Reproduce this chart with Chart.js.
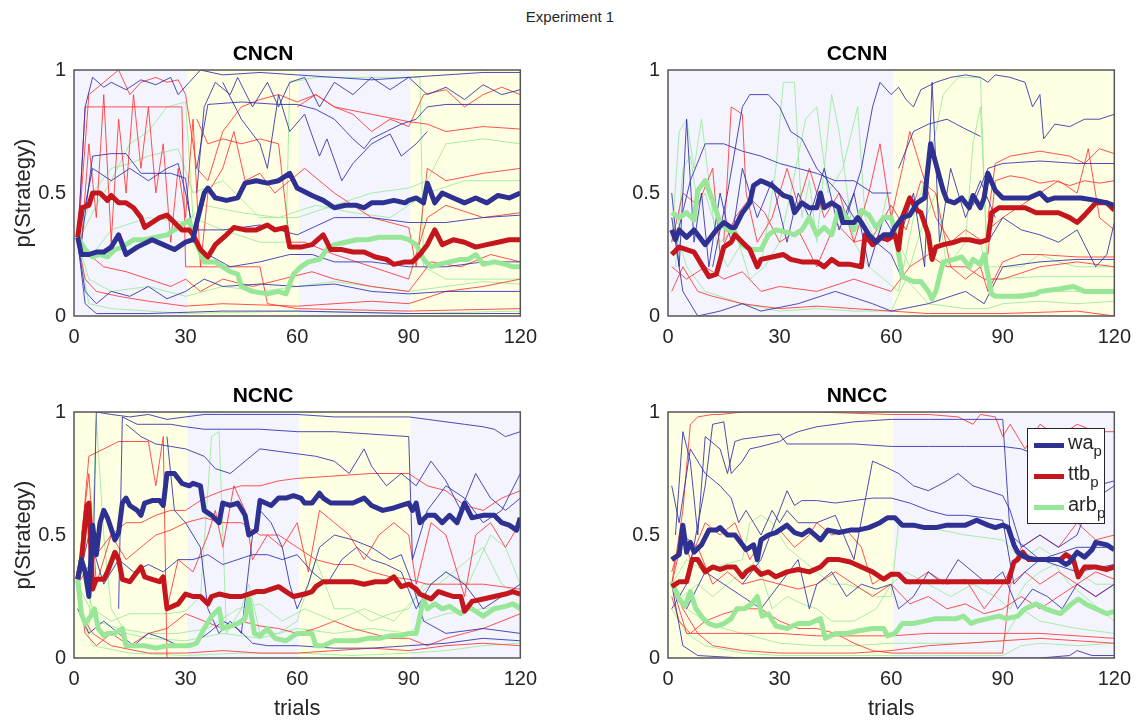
<!DOCTYPE html>
<html>
<head>
<meta charset="utf-8">
<script src="https://cdn.jsdelivr.net/npm/chart.js@4.4.1/dist/chart.umd.min.js"></script>
<style>
  body { margin: 0; background: #fff; width: 1140px; height: 722px; position: relative; overflow: hidden;
         font-family: "Liberation Sans", Arial, Helvetica, sans-serif; color: #262626; }
  canvas { position: absolute; }
  #title { position: absolute; left: 0; top: 8px; width: 1140px; text-align: center; font-size: 15px; }
  #legend { position: absolute; left: 1027px; top: 428px; width: 76px; height: 94px; background: #fff;
            border: 1px solid #262626; font-size: 20px; }
  #legend div { position: absolute; left: 6px; height: 20px; }
  #legend span.l { position: absolute; left: 0; top: 8px; width: 30px; height: 5px; }
  #legend span.t { position: absolute; left: 34px; top: -4px; white-space: nowrap; }
  #legend sub { font-size: 15px; vertical-align: -7px; }
</style>
</head>
<body>
<div id="title">Experiment 1</div>
<canvas id="c0" width="546" height="355" style="left:0;top:25px"></canvas>
<canvas id="c1" width="546" height="355" style="left:594px;top:25px"></canvas>
<canvas id="c2" width="546" height="355" style="left:0;top:367px"></canvas>
<canvas id="c3" width="546" height="355" style="left:594px;top:367px"></canvas>
<div id="legend">
  <div style="top:6px"><span class="l" style="background:#2e3192"></span><span class="t">wa<sub>p</sub></span></div>
  <div style="top:37px"><span class="l" style="background:#c4161c"></span><span class="t">ttb<sub>p</sub></span></div>
  <div style="top:68px"><span class="l" style="background:#98e698"></span><span class="t">arb<sub>p</sub></span></div>
</div>
<script>
// block boundaries (trials) and axis ticks
const phaseEdges = [0, 30.5, 60.5, 90.5, 120];
const xTicks = [0, 30, 60, 90, 120];
const yTicks = [0, 0.5, 1];
const titles = ['CNCN', 'CCNN', 'NCNC', 'NNCC'];

// ---- CNCN ----
const cncnWa = [[1,.32],[2,.25],[4,.25],[6,.26],[8,.26],[10,.28],[12,.33],[14,.25],[17,.28],[21,.31],[24,.29],[27,.27],[30,.30],[32,.31],[33,.38],[35,.50],[36,.52],[38,.48],[41,.47],[44,.48],[46,.54],[49,.55],[52,.54],[55,.55],[58,.58],[59,.55],[60,.52],[64,.49],[67,.47],[70,.44],[73,.45],[76,.45],[78,.44],[80,.46],[83,.46],[86,.47],[89,.46],[90,.47],[92,.48],[94,.46],[95,.54],[97,.46],[99,.50],[102,.48],[105,.46],[108,.48],[111,.46],[114,.49],[117,.48],[120,.50]];
const cncnTtb = [[1,.32],[2,.44],[4,.45],[5,.50],[7,.50],[9,.47],[10,.49],[12,.46],[14,.46],[16,.44],[18,.40],[19,.36],[21,.38],[23,.40],[25,.41],[27,.38],[29,.35],[31,.35],[32,.33],[34,.27],[36,.24],[38,.29],[41,.33],[43,.36],[46,.35],[49,.35],[52,.37],[54,.35],[57,.36],[58,.28],[61,.28],[64,.29],[67,.33],[69,.27],[72,.27],[75,.26],[78,.26],[81,.24],[84,.23],[86,.21],[89,.22],[91,.22],[93,.25],[95,.29],[97,.35],[99,.29],[102,.31],[105,.30],[108,.28],[111,.29],[114,.30],[117,.31],[120,.31]];
const cncnArb = [[1,.32],[3,.27],[5,.24],[7,.25],[9,.24],[11,.27],[13,.28],[16,.31],[19,.31],[22,.32],[25,.33],[27,.35],[30,.38],[31,.39],[32,.33],[35,.22],[38,.22],[40,.20],[42,.18],[44,.17],[45,.12],[48,.10],[52,.09],[55,.10],[57,.09],[59,.17],[61,.20],[63,.22],[66,.23],[68,.27],[70,.29],[73,.30],[76,.31],[79,.31],[82,.32],[85,.32],[88,.32],[90,.31],[92,.29],[94,.23],[96,.20],[98,.21],[101,.22],[104,.23],[106,.23],[108,.25],[110,.21],[113,.22],[116,.21],[118,.20],[120,.20]];
const cncnThinWa = [
  [[1,.3],[3,.85],[5,.97],[8,.93],[10,.95],[14,.92],[18,.96],[22,.94],[26,.97],[28,.9],[31,.95],[34,1],[40,.98],[50,.99],[60,.98],[70,.97],[80,.96],[90,.97],[100,.98],[110,.99],[120,.99]],
  [[33,.5],[35,.85],[38,.95],[42,.9],[44,.97],[48,.85],[52,.95],[55,.85],[58,.95],[62,.97],[66,.85],[70,.95],[75,.9],[80,.97],[85,.92],[90,.97],[95,.9],[100,.93],[105,.88],[110,.94],[115,.9],[120,.92]],
  [[33,.6],[36,.86],[45,.87],[55,.86],[60,.86],[65,.84],[70,.8],[75,.72],[78,.68],[80,.72],[84,.75],[88,.78],[92,.8],[95,.85],[100,.86],[110,.86],[120,.86]],
  [[40,.95],[45,.8],[50,.7],[52,.6],[55,.9],[58,.75],[62,.82],[66,.65],[68,.72],[72,.55],[75,.62],[80,.7],[85,.74],[88,.65],[92,.7],[95,.75]],
  [[1,.3],[5,.6],[10,.55],[15,.6],[20,.55],[25,.6],[28,.62],[30,.5],[32,.35],[40,.35],[50,.37],[60,.33],[70,.4],[80,.4],[90,.38],[100,.38],[110,.4],[120,.41]],
  [[1,.3],[3,.1],[6,.05],[10,.1],[15,.08],[20,.12],[25,.07],[30,.1],[35,.15],[40,.12],[50,.13],[60,.12],[70,.13],[80,.1],[90,.09],[100,.1],[110,.1],[120,.1]],
  [[1,.3],[3,.05],[6,.01],[20,.01],[40,.02],[60,.02],[90,.01],[120,.01]],
  [[2,.3],[5,.65],[10,.66],[14,.66],[18,.58],[22,.58],[26,.58],[30,.56],[32,.3],[36,.25],[42,.2],[50,.22],[58,.25],[64,.25],[70,.22],[80,.22],[90,.2],[100,.2],[110,.22],[120,.22]]
];
const cncnThinTtb = [
  [[1,.3],[4,.9],[8,.95],[12,1],[15,.9],[18,.95],[22,.97],[25,.95],[28,.96],[30,.9],[33,.6],[36,.55],[40,.75],[45,.85],[50,.88],[55,.9],[60,.87],[65,.9],[70,.85],[80,.82],[90,.79],[95,.78],[100,.75],[110,.77],[120,.76]],
  [[1,.3],[3,.85],[10,.85],[20,.85],[29,.85],[30,.2],[40,.2],[50,.2],[52,.05],[60,.03],[90,.02],[120,.03]],
  [[2,.3],[4,.7],[6,.4],[8,.9],[10,.3],[12,.8],[14,.5],[16,.9],[18,.6],[20,.85],[22,.5],[24,.7],[26,.3],[28,.6],[30,.4],[32,.8],[34,.2],[36,.5],[40,.6],[43,.75],[46,.55],[50,.58],[54,.5],[58,.55],[62,.6],[66,.55],[70,.5],[75,.45],[80,.4],[85,.38],[90,.36],[92,.2],[95,.6],[100,.55],[110,.58],[120,.6]],
  [[33,.8],[36,.7],[40,.72],[45,.7],[50,.72],[55,.7],[58,.3],[62,.3],[70,.25],[80,.2],[90,.15],[95,.4],[100,.45],[110,.4],[120,.42]],
  [[1,.3],[3,.15],[6,.1],[12,.08],[20,.06],[30,.04],[40,.05],[60,.04],[80,.06],[90,.05],[100,.1],[110,.12],[120,.15]],
  [[1,.3],[4,.25],[8,.2],[14,.18],[20,.15],[26,.12],[30,.15],[34,.1],[40,.15],[48,.12],[56,.15],[64,.18],[70,.15],[80,.12],[90,.1],[96,.22],[104,.2],[112,.25],[120,.22]],
  [[60,.85],[65,.9],[70,.85],[75,.82],[80,.75],[85,.8],[90,.77],[94,.9],[100,.92],[105,.85],[110,.9],[115,.93],[120,.9]]
];
const cncnThinArb = [
  [[1,.3],[6,.45],[10,.55],[15,.7],[20,.75],[25,.85],[30,.87],[32,.4],[40,.35],[50,.3],[57,.3],[58,.95],[65,.97],[80,.97],[93,.97],[94,.2],[100,.15],[120,.15]],
  [[1,.3],[5,.5],[10,.6],[15,.62],[20,.65],[28,.68],[32,.5],[40,.55],[50,.4],[60,.4],[70,.45],[80,.5],[90,.52],[95,.55],[100,.7],[110,.72],[120,.7]],
  [[1,.3],[5,.25],[10,.35],[20,.4],[30,.38],[35,.45],[45,.42],[55,.4],[65,.45],[75,.42],[85,.4],[95,.5],[105,.55],[115,.55],[120,.55]],
  [[1,.3],[4,.15],[10,.1],[20,.12],[30,.08],[40,.12],[50,.1],[60,.12],[70,.14],[80,.12],[90,.1],[100,.12],[110,.14],[120,.13]],
  [[1,.3],[4,.05],[10,.03],[30,.01],[60,.02],[90,.01],[120,.02]]
];

// ---- CCNN ----
const ccnnWa = [[1,.35],[2,.31],[3,.35],[5,.32],[7,.35],[8,.33],[10,.29],[11,.31],[13,.35],[15,.38],[17,.36],[18,.36],[20,.42],[21,.44],[22,.46],[23,.53],[25,.55],[28,.53],[31,.49],[33,.48],[34,.42],[36,.46],[38,.44],[40,.44],[41,.50],[42,.44],[44,.46],[46,.44],[47,.38],[49,.38],[50,.38],[51,.40],[52,.38],[54,.33],[56,.30],[58,.33],[60,.33],[61,.36],[63,.40],[65,.41],[67,.46],[69,.48],[70.6,.70],[72,.62],[74,.51],[75,.47],[77,.46],[79,.48],[81,.44],[82,.49],[84,.44],[85,.48],[86,.58],[88,.51],[90,.48],[93,.48],[97,.48],[100,.50],[102,.47],[104,.48],[107,.48],[111,.48],[115,.47],[118,.46],[120,.45]];
const ccnnTtb = [[1,.25],[3,.28],[5,.27],[7,.26],[9,.21],[11,.16],[13,.17],[15,.28],[17,.30],[18,.33],[20,.30],[22,.27],[24,.20],[25,.23],[28,.24],[31,.25],[33,.23],[36,.22],[40,.22],[42,.20],[44,.23],[46,.21],[49,.21],[52,.20],[53,.33],[55,.29],[57,.32],[59,.31],[61,.33],[62,.27],[63,.40],[65,.48],[67,.43],[68,.42],[70,.33],[71,.23],[72,.28],[74,.29],[77,.30],[79,.31],[81,.31],[84,.30],[86,.31],[87,.42],[89,.44],[92,.44],[96,.44],[99,.42],[102,.42],[105,.42],[108,.40],[110,.38],[112,.41],[115,.46],[118,.46],[120,.43]];
const ccnnArb = [[1,.42],[3,.40],[5,.42],[7,.39],[8,.51],[10,.55],[12,.47],[14,.38],[16,.35],[18,.34],[20,.29],[21,.28],[23,.27],[25,.27],[27,.33],[29,.35],[32,.34],[34,.33],[36,.35],[38,.40],[40,.33],[42,.36],[44,.33],[46,.44],[48,.40],[50,.35],[52,.43],[54,.41],[56,.36],[58,.40],[60,.40],[61,.35],[63,.16],[66,.14],[68,.14],[70,.10],[71,.07],[72,.10],[74,.22],[77,.23],[79,.24],[81,.20],[82,.23],[84,.21],[85,.25],[87,.09],[88,.08],[91,.08],[95,.08],[99,.09],[100,.10],[105,.11],[109,.12],[112,.10],[116,.10],[120,.10]];
const ccnnThinWa = [
  [[48,.4],[52,.6],[55,.85],[57,.95],[60,.9],[62,.93],[64,.88],[66,.85],[68,.92],[72,.95],[76,.97],[80,.98],[84,.97],[86,.95],[88,.98],[92,.97],[96,.95],[98,.85],[100,.9],[101,.72],[104,.78],[108,.77],[112,.8],[116,.8],[120,.82]],
  [[12,.2],[16,.5],[20,.85],[22,.9],[27,.9],[30,.85],[33,.75],[36,.72],[40,.6],[43,.55],[46,.5],[50,.4],[53,.35],[56,.3],[60,.25],[63,.15]],
  [[2,.3],[6,.55],[10,.7],[15,.7],[20,.67],[25,.65],[30,.62],[35,.6],[40,.58],[45,.55],[50,.55],[55,.5],[60,.5]],
  [[62,.6],[66,.75],[70,.78],[75,.8],[80,.76],[84,.73]],
  [[82,.45],[86,.6],[90,.62],[100,.63],[110,.62],[120,.62]],
  [[86,.3],[90,.4],[95,.35],[100,.33],[105,.3],[110,.35],[115,.2],[118,.25],[120,.38]],
  [[1,.4],[4,.1],[8,0],[14,.02],[20,.05],[25,.02],[35,.05],[45,.1],[55,.05],[60,.02],[70,.05],[80,.1],[85,.05],[90,.2],[100,.22],[110,.23],[120,.23]],
  [[1,.5],[3,.2],[5,.8],[7,.3],[9,.5],[11,.2],[14,.5],[17,.3],[20,.6],[24,.4],[28,.55],[32,.3],[35,.5],[38,.4],[42,.6],[46,.35],[50,.5],[54,.2],[58,.4],[62,.3],[66,.5],[69,.2],[71,.95],[73,.3],[76,.6],[80,.4],[84,.55],[88,.4]]
];
const ccnnThinTtb = [
  [[15,.3],[17,.85],[20,.82],[21,.5],[24,.3],[28,.4],[32,.6],[35,.45],[38,.6],[42,.4],[46,.5],[50,.3],[54,.5],[57,.7],[60,.4],[63,.6],[65,.75],[68,.6],[72,.4],[76,.3],[80,.35],[85,.3]],
  [[86,.4],[88,.62],[92,.65],[96,.66],[100,.67],[104,.66],[108,.65],[112,.62],[116,.68],[120,.66]],
  [[86,.25],[88,.55],[92,.57],[96,.56],[100,.54],[104,.55],[108,.53],[112,.55],[116,.54],[120,.55]],
  [[86,.35],[90,.4],[95,.45],[100,.5],[105,.55],[110,.5],[113,.68],[116,.4],[120,.35]],
  [[1,.1],[4,.2],[8,.1],[12,.08],[20,.05],[30,.03],[40,.04],[50,.03],[60,.02],[70,.01],[90,.01],[110,.02],[120,0]],
  [[1,.3],[4,.5],[8,.45],[12,.6],[14,.25],[18,.4],[22,.48],[26,.42],[30,.3],[35,.35],[40,.2],[45,.38],[50,.3],[55,.32],[60,.45],[64,.35],[68,.55],[72,.5],[76,.2],[80,.15],[84,.2],[86,.1],[90,.22],[95,.25],[100,.25],[110,.24],[120,.24]],
  [[1,.2],[5,.15],[10,.2],[15,.15],[20,.18],[25,.1],[30,.12],[40,.1],[50,.15],[60,.1],[65,.2],[70,.25],[75,.2],[80,.2],[85,.15],[90,.15],[100,.2],[110,.22],[120,.2]]
];
const ccnnThinArb = [
  [[1,.3],[3,.75],[5,.8],[7,.6],[9,.8],[11,.55],[13,.3],[16,.2],[20,.3],[25,.2],[29,.6],[31,.95],[34,.95],[36,.4],[38,.55],[40,.3],[44,.9],[46,.75],[50,.3],[54,.2],[58,.15],[62,.1],[66,.4],[70,.6],[74,.9],[78,.97],[84,.97],[86,.1],[90,.08],[100,.1],[110,.1],[120,.1]],
  [[2,.2],[4,.6],[6,.65],[8,.45],[10,.5],[14,.3],[18,.35],[22,.15],[26,.2],[30,.3],[33,.5],[37,.8],[40,.85],[43,.5],[47,.6],[51,.85],[53,.4],[56,.3],[59,.5],[62,.3],[65,.2],[68,.35],[72,.5],[75,.2],[80,.3],[82,.7],[84,.85],[86,.2],[95,.2],[100,.25],[105,.22],[110,.2],[120,.2]],
  [[1,.4],[5,.2],[10,.1],[20,.05],[30,.02],[40,.03],[50,.02],[60,.02],[64,.15],[70,.05],[80,.03],[86,.03],[90,.05],[100,.06],[110,.05],[120,.06]],
  [[84,.3],[86,.15],[100,.16],[120,.16]]
];

// ---- NCNC ----
const ncncWa = [[1,.32],[2,.40],[3,.35],[4,.25],[5,.54],[6,.42],[7,.55],[8,.60],[9,.57],[11,.48],[12,.51],[13,.63],[14,.65],[15,.62],[17,.60],[18,.58],[19,.63],[21,.64],[23,.64],[24,.62],[25,.75],[27,.75],[29,.71],[31,.70],[32,.71],[34,.70],[35,.60],[37,.58],[39,.55],[40,.63],[42,.62],[44,.63],[46,.58],[47,.50],[49,.52],[50,.64],[53,.62],[55,.65],[57,.65],[59,.66],[61,.65],[62,.63],[64,.63],[66,.67],[67,.65],[69,.63],[72,.63],[75,.63],[78,.65],[80,.62],[83,.60],[86,.61],[88,.62],[90,.63],[91,.60],[92,.63],[93,.55],[95,.58],[97,.58],[99,.55],[101,.58],[103,.55],[105,.63],[107,.57],[110,.58],[113,.58],[115,.55],[117,.54],[119,.52],[120,.57]];
const ncncTtb = [[1,.32],[2,.40],[3.5,.62],[4,.63],[5,.28],[6,.32],[8,.32],[9,.35],[11,.43],[12,.40],[13,.32],[15,.31],[16,.33],[18,.37],[19,.33],[21,.32],[23,.31],[24,.33],[25,.20],[28,.22],[30,.26],[32,.25],[34,.25],[36,.22],[37,.25],[39,.26],[42,.25],[45,.25],[47,.26],[49,.27],[51,.27],[53,.28],[55,.29],[57,.27],[59,.25],[62,.26],[64,.27],[65,.29],[67,.31],[69,.31],[72,.31],[75,.31],[78,.30],[81,.31],[84,.31],[86,.33],[88,.29],[90,.30],[92,.28],[93,.26],[96,.24],[98,.27],[100,.26],[102,.25],[104,.25],[105,.19],[107,.23],[110,.24],[113,.25],[116,.26],[118,.27],[120,.26]];
const ncncArb = [[1,.32],[2,.18],[3,.14],[4.5,.17],[5.5,.20],[6.5,.12],[8,.09],[9,.10],[11,.10],[13,.12],[14,.05],[16,.05],[19,.05],[22,.04],[25,.05],[28,.05],[31,.05],[33,.06],[35,.12],[37,.17],[39,.20],[40,.12],[42,.13],[44,.14],[46,.16],[47,.24],[48.5,.10],[50,.09],[52,.12],[54,.08],[57,.07],[60,.10],[64,.10],[65,.05],[67,.05],[70,.07],[73,.07],[76,.07],[79,.08],[82,.08],[85,.09],[88,.09],[90,.10],[92,.10],[94,.24],[95,.20],[97,.22],[99,.20],[101,.21],[104,.18],[106,.21],[108,.19],[110,.17],[113,.20],[116,.21],[118,.22],[120,.20]];
const ncncThinWa = [
  [[5,.3],[6,1],[10,.99],[15,.98],[20,.99],[25,.97],[30,.98],[35,.99],[40,.99],[50,.99],[60,.99],[70,.98],[80,.98],[90,.98],[95,.97],[100,.96],[105,.95],[110,.94],[113,.93],[116,.9],[120,.92]],
  [[12,.2],[13,.98],[17,.95],[22,.95],[26,.95],[30,.94],[35,.93],[40,.93],[50,.93],[60,.92],[70,.92],[80,.91],[90,.9],[91,.4],[95,.6],[100,.7],[105,.65],[110,.55],[115,.6],[120,.75]],
  [[14,.95],[18,.9],[22,.87],[26,.86],[30,.85],[35,.82],[38,.77],[42,.75],[46,.8],[50,.85],[55,.84],[60,.83],[65,.82],[70,.8],[74,.75],[78,.85],[80,.78],[84,.7],[88,.75],[92,.7],[96,.8],[100,.72],[104,.6],[108,.75],[112,.65],[116,.6],[120,.65]],
  [[1,.3],[4,.5],[8,.3],[12,.4],[16,.35],[20,.38],[24,.35],[28,.4],[32,.4],[36,.42],[40,.38],[44,.4],[48,.42],[52,.42],[56,.4],[60,.42],[64,.35],[68,.3],[72,.4],[76,.45],[80,.4],[84,.38],[88,.35],[92,.2],[96,.3],[100,.35],[105,.3],[110,.2],[115,.25],[120,.3]],
  [[1,.2],[4,.1],[8,.15],[12,.1],[16,.05],[20,.1],[24,.08],[28,.05],[32,.06],[36,.1],[40,.15],[44,.12],[48,.06],[52,.05],[60,.05],[70,.04],[80,.04],[90,.05],[100,.06],[110,.08],[120,.07]],
  [[25,.9],[27,.6],[30,.55],[34,.45],[36,.2],[39,.1],[42,.15],[45,.1],[48,.5],[50,.6],[53,.55],[56,.45],[58,.3],[60,.2],[63,.3],[66,.45],[70,.5],[75,.48],[80,.45],[85,.4],[88,.42],[91,.3],[94,.15],[100,.1],[110,.12],[120,.1]]
];
const ncncThinTtb = [
  [[1,.3],[4,.82],[8,.85],[12,.88],[16,.88],[20,.88],[22,.7],[24,.9],[25,0]],
  [[2,.5],[4,.75],[6,.3],[10,.5],[14,.55],[18,.55],[22,.58],[26,.6],[30,.6],[35,.65],[40,.68],[45,.7],[50,.7],[55,.72],[60,.73],[70,.74],[80,.75],[90,.75],[95,.7],[100,.68],[105,.62],[110,.6],[115,.65],[120,.68]],
  [[25,.2],[28,.4],[32,.35],[36,.5],[38,.6],[40,.45],[43,.7],[46,.6],[48,.4],[52,.5],[56,.45],[60,.55],[63,.35],[66,.6],[70,.55],[74,.5],[78,.4],[82,.5],[86,.55],[90,.5],[92,.3],[96,.55],[100,.5],[105,.25],[108,.5],[112,.55],[116,.45],[120,.55]],
  [[1,.3],[3,.1],[6,.05],[10,.1],[15,.05],[20,.1],[25,.12],[30,.18],[35,.15],[40,.12],[45,.15],[50,.13],[55,.12],[60,.1],[65,.12],[70,.15],[75,.12],[80,.1],[85,.08],[90,.08],[95,.05],[100,.08],[105,.1],[110,.12],[115,.15],[120,.18]],
  [[1,.2],[5,.1],[10,.05],[20,.02],[30,.02],[40,.03],[50,.02],[60,.02],[70,.03],[80,.04],[90,.03],[100,.05],[110,.06],[120,.05]],
  [[1,.3],[5,.4],[10,.5],[14,.4],[18,.45],[22,.5],[26,.52],[30,.55],[35,.57],[40,.55],[45,.55],[50,.5],[55,.5],[60,.45],[65,.4],[70,.38],[75,.38],[80,.35],[85,.33],[90,.32],[95,.3],[100,.3],[110,.3],[120,.28]]
];
const ncncThinArb = [
  [[1,.4],[5,.2],[10,.15],[15,.18],[20,.18],[25,.18],[30,.19],[34,.25],[37,.9],[39,.92],[41,.1],[45,.2],[47,.3],[50,.1],[55,.1],[60,.15],[65,.4],[70,.2],[75,.2],[80,.15],[85,.18],[90,.2],[94,.3],[98,.3],[102,.35],[106,.4],[110,.45],[115,.3],[120,.25]],
  [[1,.3],[6,.15],[12,.12],[20,.1],[28,.1],[36,.12],[44,.2],[50,.22],[56,.15],[62,.2],[70,.15],[78,.2],[86,.15],[92,.25],[100,.35],[106,.3],[112,.5],[116,.45],[120,.3]],
  [[1,.2],[5,.05],[15,.02],[30,.01],[45,.02],[60,.02],[75,.01],[90,.02],[100,.03],[110,.05],[120,.06]],
  [[4,.1],[6,.97],[8,.5],[10,.2],[14,.1],[20,.08],[30,.07],[40,.1],[50,.08],[60,.12],[70,.1],[80,.12],[90,.1],[94,.15],[100,.18],[110,.2],[120,.22]]
];

// ---- NNCC ----
const nnccWa = [[1,.40],[3,.42],[4,.54],[5,.43],[6,.47],[7,.43],[9,.46],[11,.52],[13,.52],[14,.53],[16,.50],[18,.50],[20,.46],[21,.44],[23,.46],[24,.40],[25,.48],[27,.50],[29,.51],[32,.54],[34,.51],[36,.50],[38,.52],[41,.48],[43,.52],[46,.51],[49,.52],[51,.52],[54,.53],[57,.55],[59,.57],[61,.57],[63,.54],[66,.54],[69,.53],[72,.53],[75,.54],[78,.54],[80,.54],[83,.56],[86,.54],[88,.53],[90,.54],[91.5,.53],[93,.46],[94,.43],[96,.41],[99,.40],[102,.40],[105,.40],[107,.38],[108,.39],[110,.43],[112,.41],[114,.44],[115,.47],[118,.46],[120,.44]];
const nnccTtb = [[1,.29],[3,.31],[5,.31],[6.5,.40],[8,.40],[10,.35],[12,.37],[14,.36],[16,.37],[18,.37],[20,.33],[21,.35],[23,.37],[25,.34],[27,.35],[29,.33],[32,.35],[35,.36],[38,.35],[41,.37],[43,.40],[46,.40],[49,.39],[52,.37],[55,.35],[58,.32],[60,.34],[62,.34],[64,.31],[67,.31],[70,.31],[73,.31],[76,.31],[79,.31],[81,.31],[84,.31],[87,.31],[90,.31],[91.5,.31],[93,.39],[94,.40],[95.4,.43],[97,.40],[100,.40],[103,.40],[105.5,.40],[107,.42],[109,.40],[110.3,.33],[112,.37],[115,.37],[118,.36],[120,.37]];
const nnccArb = [[1,.31],[3,.24],[4.5,.21],[6,.27],[7.5,.20],[9.5,.16],[11,.14],[13,.13],[15,.14],[17,.16],[18.5,.20],[20.5,.20],[22.5,.22],[24,.25],[25.3,.17],[27,.18],[29,.13],[32,.12],[35,.14],[38,.14],[41,.16],[42.3,.08],[45,.10],[48,.10],[51,.11],[55,.12],[58,.12],[59,.09],[61,.10],[63,.14],[66,.14],[69,.15],[72,.16],[75,.16],[77.5,.16],[79.5,.17],[81.5,.14],[83,.15],[86,.16],[89,.17],[91,.16],[94,.17],[96,.20],[99,.22],[101.5,.20],[103.5,.19],[105.5,.18],[108.5,.22],[110.3,.24],[112.3,.22],[115,.20],[118,.18],[120,.19]];
const nnccThinWa = [
  [[1,.2],[5,.3],[10,.7],[12,.95],[15,.96],[17,.75],[20,.8],[22,.85],[25,.86],[30,.88],[32,.9],[35,.92],[40,.94],[50,.96],[60,.97],[70,.97],[80,.97],[90,.97],[92,.5],[96,.45],[100,.4],[110,.45],[120,.45]],
  [[2,.5],[4,.92],[6,.8],[8,.5],[10,.9],[14,.85],[16,.75],[18,.88],[20,.89],[25,.9],[30,.91],[32,.87],[40,.87],[50,.87],[60,.86],[70,.86],[80,.86],[90,.86],[95,.85],[100,.82],[105,.6],[110,.62],[115,.65],[120,.7]],
  [[1,.7],[3,.55],[6,.85],[10,.75],[14,.7],[17,.65],[19,.55],[21,.6],[23,.55],[25,.5],[28,.6],[30,.55],[32,.6],[35,.55],[40,.55],[45,.58],[50,.4],[55,.8],[58,.78],[62,.75],[66,.7],[70,.68],[75,.72],[78,.75],[82,.7],[86,.68],[90,.66],[92,.6],[95,.45],[100,.5],[105,.45],[110,.5],[115,.7],[120,.72]],
  [[20,.3],[25,.4],[30,.6],[32,.68],[34,.62],[36,.64],[40,.64],[45,.63],[50,.64],[55,.65],[60,.65],[65,.63],[70,.6],[75,.58],[80,.58],[85,.57],[90,.56],[93,.3],[96,.35],[100,.4],[110,.35],[120,.38]],
  [[1,.3],[5,.2],[10,.35],[15,.3],[20,.25],[25,.2],[30,.3],[35,.4],[38,.2],[40,.3],[44,.35],[48,.25],[52,.3],[56,.28],[60,.3],[62,.2],[66,.25],[70,.35],[74,.3],[78,.4],[82,.35],[86,.3],[90,.35],[94,.2],[98,.28],[102,.25],[106,.2],[110,.3],[115,.25],[120,.3]],
  [[1,.3],[4,.05],[8,.01],[20,0],[40,0],[60,0],[80,0],[100,0],[108,.01],[110,.03],[114,.01],[120,.01]]
];
const nnccThinTtb = [
  [[1,.3],[4,.6],[6,.95],[8,.98],[12,.99],[14,.99],[20,1],[40,1],[60,.99],[70,.99],[78,.98],[82,.95],[84,.99],[88,.98],[90,.9],[92,.95],[96,.85],[100,.95],[105,.9],[110,.95],[115,.92],[120,.92]],
  [[1,.3],[4,.5],[6,.4],[10,.55],[14,.5],[18,.55],[22,.4],[26,.5],[30,.52],[34,.45],[38,.5],[40,.55],[44,.5],[48,.52],[52,.45],[55,.3],[60,.35],[65,.3],[70,.35],[75,.3],[80,.32],[85,.2],[90,.3],[95,.45],[100,.5],[105,.45],[110,.55],[115,.48],[120,.5]],
  [[1,.25],[3,.15],[6,.1],[10,.15],[15,.18],[20,.2],[25,.2],[30,.15],[35,.12],[40,.12],[45,.1],[50,.06],[55,.03],[60,.02],[70,.02],[80,.02],[90,.02],[92,.3],[96,.35],[100,.3],[105,.35],[110,.3],[115,.35],[120,.32]],
  [[1,.3],[4,.2],[8,.1],[12,.05],[20,.03],[30,.02],[40,.02],[50,.02],[60,.03],[70,.05],[80,.06],[90,.07],[100,.08],[110,.07],[120,.06]],
  [[1,.35],[4,.5],[8,.45],[12,.3],[16,.35],[20,.3],[25,.32],[30,.3],[35,.28],[40,.3],[45,.35],[50,.3],[55,.25],[60,.3],[65,.22],[70,.25],[75,.2],[80,.22],[85,.18],[90,.2],[95,.25],[100,.2],[105,.25],[110,.3],[115,.25],[120,.3]],
  [[1,.3],[5,.1],[10,.1],[20,.1],[30,.1],[40,.09],[50,.09],[60,.09],[70,.1],[80,.1],[90,.1],[100,.1],[110,.09],[120,.08]]
];
const nnccThinArb = [
  [[1,.3],[5,.4],[10,.35],[15,.38],[20,.4],[22,.55],[25,.58],[28,.55],[32,.45],[36,.4],[40,.35],[44,.3],[48,.3],[52,.28],[56,.25],[60,.25],[62,.55],[70,.53],[80,.5],[90,.48],[95,.4],[100,.45],[105,.4],[110,.35],[115,.3],[120,.3]],
  [[1,.3],[5,.2],[10,.15],[15,.12],[20,.1],[25,.08],[30,.06],[40,.05],[50,.05],[60,.06],[70,.06],[80,.06],[90,.07],[95,.2],[100,.15],[110,.12],[120,.1]],
  [[1,.2],[5,.1],[10,.05],[20,.02],[30,.01],[50,.01],[70,.01],[90,.01],[95,.05],[100,.06],[110,.05],[120,.06]],
  [[1,.3],[4,.25],[8,.3],[12,.25],[16,.3],[20,.35],[24,.4],[28,.2],[32,.25],[36,.22],[40,.2],[44,.15],[50,.15],[56,.2],[60,.3],[64,.35],[70,.3],[76,.25],[82,.3],[88,.25],[92,.2],[96,.3],[100,.35],[104,.38],[108,.3],[112,.25],[116,.2],[120,.15]]
];

const colWa = '#2e3192', colTtb = '#c4161c', colArb = '#98e698';
const thinWa = 'rgba(45,45,170,0.85)', thinTtb = 'rgba(255,50,50,0.85)', thinArb = 'rgba(150,235,150,0.85)';
const bandC = 'rgb(244,244,254)', bandN = 'rgb(255,255,228)';
const fontFam = '"Liberation Sans", Arial, Helvetica, sans-serif';

const toXY = pts => pts.map(([x, y]) => ({ x, y }));

function thick(pts, color) {
  return { data: toXY(pts), borderColor: color, borderWidth: 5, order: 0 };
}
function thinSet(lines, color) {
  return lines.map(l => ({ data: toXY(l), borderColor: color, borderWidth: 1, order: 1 }));
}

const panelData = [
  [cncnWa, cncnTtb, cncnArb, cncnThinWa, cncnThinTtb, cncnThinArb],
  [ccnnWa, ccnnTtb, ccnnArb, ccnnThinWa, ccnnThinTtb, ccnnThinArb],
  [ncncWa, ncncTtb, ncncArb, ncncThinWa, ncncThinTtb, ncncThinArb],
  [nnccWa, nnccTtb, nnccArb, nnccThinWa, nnccThinTtb, nnccThinArb]
];

// shaded blocks (C = compensatory, N = non-compensatory) and the axes box
const bandsPlugin = {
  id: 'bands',
  beforeDatasetsDraw(chart, args, opts) {
    const { ctx, chartArea: a, scales: { x } } = chart;
    ctx.save();
    opts.phases.split('').forEach((p, i) => {
      const x0 = x.getPixelForValue(phaseEdges[i]);
      const x1 = x.getPixelForValue(phaseEdges[i + 1]);
      ctx.fillStyle = p === 'C' ? bandC : bandN;
      ctx.fillRect(x0, a.top, x1 - x0, a.bottom - a.top);
    });
    ctx.restore();
  },
  afterDatasetsDraw(chart) {
    const { ctx, chartArea: a } = chart;
    ctx.save();
    ctx.strokeStyle = '#555';
    ctx.lineWidth = 1.5;
    ctx.strokeRect(a.left, a.top, a.right - a.left, a.bottom - a.top);
    ctx.restore();
  }
};

titles.forEach((name, i) => {
  const [wa, ttb, arb, tWa, tTtb, tArb] = panelData[i];
  const isLeft = i % 2 === 0, isBottom = i >= 2;
  new Chart(document.getElementById('c' + i), {
    type: 'line',
    data: {
      datasets: [
        thick(wa, colWa), thick(ttb, colTtb), thick(arb, colArb),
        ...thinSet(tWa, thinWa), ...thinSet(tTtb, thinTtb), ...thinSet(tArb, thinArb)
      ]
    },
    options: {
      responsive: false,
      animation: false,
      events: [],
      layout: { padding: { left: 0, right: 20, top: 0, bottom: 0 } },
      elements: { point: { radius: 0 }, line: { tension: 0, borderJoinStyle: 'round' } },
      scales: {
        x: {
          type: 'linear', min: 0, max: 120,
          afterBuildTicks: s => { s.ticks = xTicks.map(v => ({ value: v })); },
          afterFit: s => { s.height = 64; },
          grid: { display: false, drawTicks: false },
          border: { display: false },
          ticks: { padding: 9, maxRotation: 0, autoSkip: false, color: '#262626',
                   font: { family: fontFam, size: 20 } },
          title: { display: isBottom, text: 'trials', color: '#262626',
                   font: { family: fontFam, size: 22 }, padding: { top: 0, bottom: 0 } }
        },
        y: {
          type: 'linear', min: 0, max: 1,
          afterBuildTicks: s => { s.ticks = yTicks.map(v => ({ value: v })); },
          afterFit: s => { s.width = 74; },
          grid: { display: false, drawTicks: false },
          border: { display: false },
          ticks: { padding: 8, color: '#262626', font: { family: fontFam, size: 20 },
                   callback: v => String(v) },
          title: { display: isLeft, text: 'p(Strategy)', color: '#262626',
                   font: { family: fontFam, size: 22 }, padding: { top: 11, bottom: 0 } }
        }
      },
      plugins: {
        legend: { display: false },
        tooltip: { enabled: false },
        title: { display: true, text: name, color: '#000',
                 font: { family: fontFam, size: 21, weight: 'bold' },
                 padding: { top: 16.4, bottom: 3.4 } },
        bands: { phases: name }
      }
    },
    plugins: [bandsPlugin]
  });
});
</script>
</body>
</html>
